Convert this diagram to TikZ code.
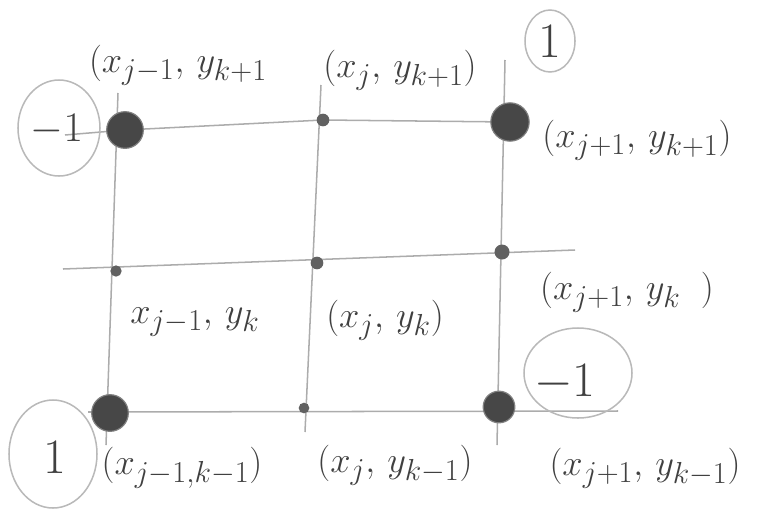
\documentclass[tikz,border=0pt]{standalone}
\usetikzlibrary{shapes.geometric}
\begin{document}
\begin{tikzpicture}[x=0.03cm,y=-0.03cm,
 gridline/.style={draw=gray!65, line width=1.3pt},
 bigdot/.style={circle, fill=black!72, draw=black!50, line width=1pt, minimum size=1.1cm, inner sep=0},
 smalldot/.style={circle, fill=black!62, minimum size=0.38cm, inner sep=0},
 lbl/.style={text=black!75, font=\Huge, scale=1.25, inner sep=0},
 digit/.style={text=black!75, font=\Huge, scale=1.7, inner sep=0},
 ringline/.style={draw=gray!55, line width=1.3pt}]
\useasboundingbox (0,0) rectangle (763,527);
% line ends
\coordinate (t0) at (65,135);
\coordinate (m0) at (63,269);
\coordinate (m1) at (575,250);
\coordinate (b0) at (88,412);
\coordinate (b1) at (618,411);
\coordinate (l0) at (118,93);
\coordinate (l1) at (106,445);
\coordinate (c0) at (321,85);
\coordinate (c1) at (305,432);
\coordinate (r0) at (505,60);
\coordinate (r1) at (497,445);
% grid lines
\draw[gridline] (t0) -- (125,130) -- (323,120) -- (510,122);
\draw[gridline] (m0) -- (m1);
\draw[gridline] (b0) -- (b1);
\draw[gridline] (l0) -- (l1);
\draw[gridline] (c0) -- (c1);
\draw[gridline] (r0) -- (r1);
% grid points
\node[bigdot] (TL) at (125,130) {};
\node[smalldot] (TM) at (323,120) {};
\node[bigdot, minimum size=1.15cm] (TR) at (510,122) {};
\node[smalldot, minimum size=0.34cm] (ML) at (116,271) {};
\node[smalldot] (MM) at (317,263) {};
\node[smalldot, minimum size=0.45cm] (MR) at (502,252) {};
\node[bigdot] (BL) at (110,413) {};
\node[smalldot, minimum size=0.32cm] (BM) at (304,408) {};
\node[bigdot, minimum size=0.95cm] (BR) at (499,407) {};
% labels
\node[lbl] (LTL) at (178,65) {$(x_{j-1},\,y_{k+1}$};
\node[lbl] (LTM) at (400,70) {$(x_{j},\,y_{k+1})$};
\node[lbl] (LTR) at (637,140) {$(x_{j+1},\,y_{k+1})$};
\node[lbl] (LML) at (195,322) {$x_{j-1},\,y_{k}$};
\node[lbl] (LMM) at (385,320) {$(x_{j},\,y_{k})$};
\node[lbl] (LMR) at (627,292) {$(x_{j+1},\,y_{k}\;\;)$};
\node[lbl] (LBL) at (182,468) {$(x_{j-1,k-1})$};
\node[lbl] (LBM) at (395,465) {$(x_{j},\,y_{k-1})$};
\node[lbl] (LBR) at (645,468) {$(x_{j+1},\,y_{k-1})$};
% circled weights
\node[digit, scale=0.85] (W1) at (57,130) {$-1$};
\draw[ringline] (59,128) ellipse [x radius=41, y radius=48];
\node[digit] (W2) at (550,42) {$1$};
\draw[ringline] (550,41) ellipse [x radius=25, y radius=31];
\node[digit] (W3) at (565,383) {$-1$};
\draw[ringline] (578,373) ellipse [x radius=54, y radius=45];
\node[digit] (W4) at (55,458) {$1$};
\draw[ringline] (53,454) ellipse [x radius=44, y radius=54];
\end{tikzpicture}
\end{document}
